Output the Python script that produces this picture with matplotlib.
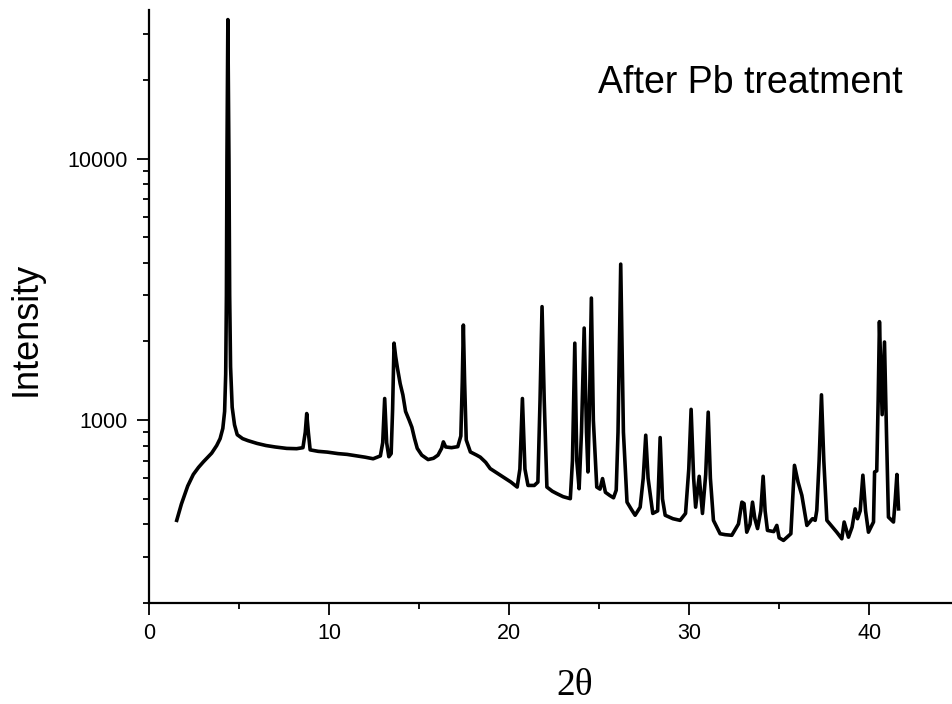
import matplotlib
matplotlib.use("Agg")
import matplotlib.pyplot as plt
from matplotlib.ticker import LogLocator, FixedLocator, NullFormatter, MultipleLocator

plt.rcParams['font.family'] = ['Liberation Sans', 'DejaVu Sans']

# XRD pattern: 2theta (deg) and counts
two_theta = [
    1.54, 1.65, 1.80, 1.95, 2.15, 2.46, 2.75, 3.02, 3.25, 3.48,
    3.76, 3.95, 4.10, 4.20, 4.26, 4.30, 4.33, 4.38, 4.44, 4.48,
    4.53, 4.62, 4.75, 4.90, 5.20, 5.50, 6.00, 6.50, 7.00, 7.65,
    8.20, 8.55, 8.68, 8.76, 8.85, 8.95, 9.40, 9.90, 10.50, 11.00,
    11.40, 12.00, 12.45, 12.85, 12.98, 13.09, 13.20, 13.32, 13.45, 13.53,
    13.61, 13.70, 13.80, 13.95, 14.10, 14.25, 14.45, 14.60, 14.75, 14.90,
    15.15, 15.50, 15.80, 16.05, 16.25, 16.35, 16.48, 16.80, 17.15, 17.32,
    17.40, 17.46, 17.53, 17.62, 17.85, 18.20, 18.40, 18.70, 18.95, 19.30,
    19.70, 20.10, 20.45, 20.60, 20.74, 20.88, 21.05, 21.40, 21.60, 21.72,
    21.83, 21.95, 22.10, 22.40, 22.65, 23.00, 23.40, 23.52, 23.65, 23.76,
    23.89, 24.02, 24.17, 24.30, 24.38, 24.46, 24.57, 24.68, 24.87, 25.05,
    25.19, 25.35, 25.60, 25.80, 25.95, 26.05, 26.20, 26.35, 26.55, 26.80,
    27.00, 27.28, 27.45, 27.59, 27.72, 27.98, 28.25, 28.39, 28.52, 28.67,
    29.10, 29.50, 29.80, 29.98, 30.11, 30.25, 30.36, 30.56, 30.74, 30.92,
    31.06, 31.18, 31.35, 31.72, 32.00, 32.37, 32.74, 32.93, 33.05, 33.20,
    33.38, 33.52, 33.65, 33.80, 33.98, 34.11, 34.22, 34.35, 34.70, 34.87,
    35.00, 35.24, 35.50, 35.65, 35.75, 35.85, 36.05, 36.26, 36.54, 36.85,
    37.00, 37.09, 37.22, 37.35, 37.48, 37.65, 37.90, 38.20, 38.48, 38.61,
    38.85, 39.05, 39.22, 39.35, 39.50, 39.65, 39.80, 39.96, 40.24, 40.30,
    40.42, 40.50, 40.57, 40.72, 40.85, 40.96, 41.07, 41.35, 41.45, 41.54,
    41.63,
]
intensity = [
    414, 440, 478, 512, 560, 620, 660, 693, 720, 748,
    800, 850, 930, 1080, 1500, 3000, 10000, 34000, 10000, 3000,
    1600, 1120, 960, 880, 850, 835, 815, 800, 790, 780,
    778, 785, 900, 1060, 900, 770, 760, 755, 745, 740,
    733, 722, 712, 730, 820, 1210, 820, 725, 745, 1100,
    1970, 1750, 1580, 1380, 1250, 1080, 1000, 940, 850, 780,
    735, 707, 715, 735, 780, 826, 790, 785, 792, 870,
    1400, 2310, 1400, 840, 756, 735, 722, 690, 653, 630,
    605, 580, 555, 650, 1210, 650, 563, 563, 580, 1200,
    2717, 1200, 555, 535, 524, 510, 501, 700, 1970, 700,
    547, 900, 2250, 900, 634, 1100, 2930, 1000, 555, 545,
    598, 530, 515, 505, 540, 900, 3950, 900, 486, 455,
    433, 465, 600, 876, 600, 440, 450, 858, 500, 433,
    420, 414, 440, 650, 1100, 600, 465, 610, 440, 620,
    1073, 600, 414, 368, 365, 363, 401, 486, 480, 373,
    400, 486, 420, 385, 450, 610, 450, 379, 375, 396,
    355, 347, 360, 368, 500, 672, 580, 516, 396, 420,
    414, 452, 700, 1250, 700, 414, 395, 373, 352, 408,
    357, 390, 458, 420, 450, 616, 450, 373, 408, 634,
    640, 1200, 2380, 1050, 1990, 900, 426, 408, 500, 620,
    458,
]

fig = plt.figure(figsize=(9.52, 7.04), dpi=100)
ax = fig.add_axes([149/952, 1 - 603/704, 803/952, 593/704])

ax.plot(two_theta, intensity, color='black', lw=2.6, solid_joinstyle='round')

ax.set_yscale('log')
ax.set_xlim(0, 44.6)
ax.set_ylim(200, 37000)

ax.xaxis.set_major_locator(MultipleLocator(10))
ax.xaxis.set_minor_locator(MultipleLocator(5))
ax.yaxis.set_major_locator(FixedLocator([1000, 10000]))
ax.yaxis.set_major_formatter(matplotlib.ticker.FuncFormatter(lambda v, p: "%d" % v))
ax.yaxis.set_minor_locator(LogLocator(base=10, subs=range(2, 10)))
ax.yaxis.set_minor_formatter(NullFormatter())

for s in ('top', 'right'):
    ax.spines[s].set_visible(False)
for s in ('left', 'bottom'):
    ax.spines[s].set_linewidth(1.6)

ax.tick_params(which='major', length=8.5, width=1.3, labelsize=15.5, pad=6)
ax.tick_params(which='minor', length=4.3, width=1.3)
ax.tick_params(axis='y', which='major', pad=7)

ax.set_xlabel(u"2\u03b8", family='Liberation Serif', fontsize=27)
ax.xaxis.label.set_verticalalignment('baseline')
ax.xaxis.set_label_coords(0.5305, -0.155)

ax.set_ylabel("Intensity", fontsize=26)
ax.yaxis.label.set_verticalalignment('center')
ax.yaxis.set_label_coords(-0.153, 0.463)

fig.text(598/952, 1 - 93/704, "After Pb treatment", fontsize=27, va='baseline')

fig.savefig("out.png", dpi=100)
plt.close()
